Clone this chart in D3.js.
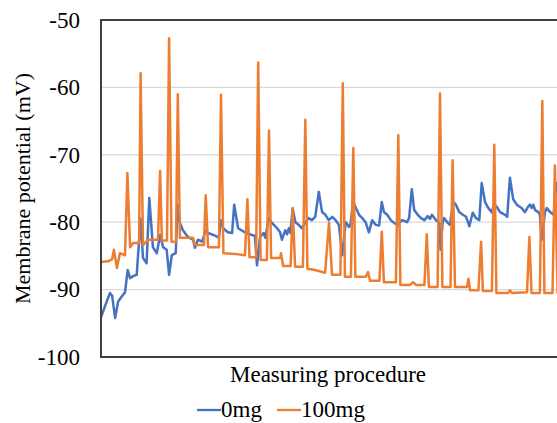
<!DOCTYPE html>
<html>
<head>
    <meta charset="utf-8">
    <title>Membrane potential</title>
    <script src="https://d3js.org/d3.v7.min.js"></script>
</head>
<body style="margin:0; background:#fff; overflow:hidden;">
<div id="chart"></div>
<script>
    // sample position along the measuring procedure (arbitrary units) and potential (mV)
    var t0mg = [0, 1.7, 3, 3.7, 4.7, 5.7, 6.3, 8, 8.9, 9.7, 10.7, 11.9, 13.2, 14, 15.2, 16.1, 17.3, 18.6,
        19.7, 20.7, 21.9, 22.7, 23.6, 24.9, 25.6, 26.3, 27.3, 29, 30.7, 31.3, 32.3, 33.7, 34.9, 35.7, 38,
        39.3, 40, 40.7, 42.3, 43.7, 44.4, 45.7, 48, 50.3, 51.3, 52, 53, 54.2, 54.8, 55.9, 57, 58.7, 59.7,
        60.3, 61.4, 62, 62.6, 63.1, 63.9, 64.8, 65.9, 67, 68.1, 69.2, 70.3, 71.4, 72.6, 73.7, 74.8, 75.9,
        77.1, 78.2, 79.3, 80.4, 81.6, 82.7, 83.2, 84, 85, 86, 87.1, 88.2, 89.3, 90.4, 91.6, 92.7, 93.6,
        94.3, 95.4, 96.6, 97.7, 98.8, 100.4, 102, 102.7, 103.6, 104.4, 105.6, 106.7, 107.8, 108.9, 109.7,
        110.3, 111.7, 112.8, 113.2, 113.9, 114.4, 115.6, 116.3, 117.4, 118.3, 119.4, 120.6, 121.7, 122.8,
        123.9, 125, 126.1, 126.9, 128, 129.1, 130.2, 131, 131.9, 133, 134.7, 135.4, 136.3, 137.4, 138.6,
        140.2, 141.3, 142.4, 143, 143.6, 144.1, 144.7, 145.8, 146.3, 146.9, 148, 148.6, 149.7, 150.9,
        151.7, 153];
    var v0mg = [-94.1, -92.0, -90.5, -90.9, -94.2, -91.8, -91.4, -90.4, -87.1, -88.3, -88.0, -87.8, -79.5,
        -85.3, -86.1, -76.4, -83.7, -84.6, -81.9, -83.7, -84.1, -87.8, -84.9, -84.6, -77.4, -80.1, -81.2,
        -82.2, -82.6, -83.8, -82.6, -82.9, -81.2, -81.6, -82.0, -82.3, -79.7, -80.9, -81.5, -81.6, -77.4,
        -80.9, -81.5, -81.9, -82.0, -86.4, -82.2, -81.6, -82.3, -79.4, -80.1, -80.9, -81.5, -82.6, -81.2,
        -81.8, -80.9, -81.6, -78.0, -80.0, -80.4, -80.9, -80.1, -79.4, -79.7, -79.2, -75.5, -78.5, -78.9,
        -79.7, -79.2, -79.7, -80.4, -84.9, -80.0, -80.7, -80.3, -77.0, -77.9, -78.9, -79.4, -80.0, -81.5,
        -79.7, -80.4, -80.5, -77.0, -78.5, -78.9, -79.7, -80.1, -80.4, -79.7, -80.0, -79.4, -75.1, -78.2,
        -78.9, -79.4, -79.7, -79.1, -79.5, -78.9, -79.7, -80.1, -84.1, -80.0, -79.4, -80.1, -80.4, -77.0,
        -77.4, -78.5, -78.9, -79.2, -80.6, -78.6, -79.4, -79.7, -74.2, -77.0, -77.9, -78.5, -77.4, -77.7,
        -78.5, -78.9, -79.2, -73.4, -76.6, -77.4, -77.9, -78.5, -77.7, -77.4, -77.9, -77.4, -78.2, -78.5,
        -78.9, -82.6, -78.5, -77.9, -78.5, -78.9, -74.2, -76.6];

    var t100mg = [0, 2.3, 3.7, 4.3, 5.3, 6.3, 8, 8.8, 9.7, 10.7, 12.7, 13.2, 14, 15.7, 19, 19.7, 20.3, 22,
        22.7, 23.5, 25, 25.6, 26.3, 30.7, 31.3, 34.3, 34.9, 35.7, 39.3, 40, 40.8, 44.7, 48, 48.8, 49.5,
        51.7, 52.4, 53.2, 55.3, 56, 56.7, 59.7, 60, 60.7, 63.2, 63.9, 64.7, 67.3, 68.1, 68.8, 71.3, 74.7,
        76, 77, 79.8, 80.6, 81.3, 83.3, 84.1, 84.8, 88.3, 89, 89.7, 92.8, 93.6, 94.3, 98.3, 99.1, 99.8,
        103, 104, 105, 107.8, 108.6, 109.3, 112.2, 113, 113.8, 116.5, 117.2, 118, 122, 122.5, 123, 125.8,
        126.7, 127.3, 130.3, 131.1, 131.8, 135.7, 136.3, 137, 142, 142.8, 143.5, 146.3, 147.1, 147.8,
        150.5, 151.3, 152.2, 153];
    var v100mg = [-85.9, -85.8, -85.5, -84.1, -86.8, -84.6, -84.9, -72.7, -83.7, -83.1, -83.1, -57.9,
        -83.4, -82.6, -82.6, -72.4, -82.7, -82.7, -52.7, -82.9, -82.9, -61.0, -82.3, -82.3, -83.4, -83.4,
        -76.0, -83.7, -83.7, -61.1, -84.6, -84.7, -84.9, -76.6, -85.2, -85.2, -56.3, -85.6, -85.6, -66.4,
        -85.3, -85.3, -84.6, -86.5, -86.5, -77.9, -86.6, -86.6, -64.8, -86.9, -87.1, -87.5, -80.1, -87.8,
        -87.8, -59.4, -88.1, -88.1, -69.0, -88.1, -88.1, -87.4, -88.7, -88.7, -81.4, -88.9, -88.9, -67.1,
        -89.3, -89.3, -88.9, -89.3, -89.3, -81.8, -89.6, -89.6, -60.9, -89.6, -89.6, -70.8, -89.6, -89.6,
        -88.4, -90.1, -90.1, -82.9, -90.2, -90.2, -68.5, -90.5, -90.5, -90.1, -90.5, -90.4, -82.2, -90.5,
        -90.5, -62.0, -90.5, -90.5, -71.6, -90.5, -90.5];

    var yTicks = [-100, -90, -80, -70, -60, -50];
    var seriesNames = ["0mg", "100mg"];
    var seriesColors = ["#4472C4", "#ED7D31"];

    var serif = "'Liberation Serif', 'Times New Roman', serif";

    var margin = {top: 20, left: 101},
        width = 480,
        height = 337;

    var svg = d3.select("#chart")
      .append("svg")
        .attr("width", 557)
        .attr("height", 423);

    var g = svg.append("g")
        .attr("transform", "translate(" + margin.left + "," + margin.top + ")");

    var x = d3.scaleLinear().domain([0, 160]).range([0, width]);
    var y = d3.scaleLinear().domain([-100, -50]).range([height, 0]);

    // gridlines
    g.selectAll(".grid")
        .data(yTicks.slice(1, -1))
        .enter().append("line")
        .attr("x1", 0).attr("x2", width)
        .attr("y1", d => y(d)).attr("y2", d => y(d))
        .attr("stroke", "#d9d9d9")
        .attr("stroke-width", 1.3);

    // y axis labels (plain hyphen minus, like the original)
    var yAxis = g.append("g")
        .call(d3.axisLeft(y).tickValues(yTicks).tickSize(0).tickPadding(21).tickFormat(d => String(d)));
    yAxis.select(".domain").remove();
    yAxis.selectAll("text")
        .style("font-family", serif)
        .style("font-size", "23px")
        .attr("fill", "#000");

    // lines
    var line = d3.line()
        .x(d => x(d[0]))
        .y(d => y(d[1]));

    var data0 = t0mg.map((t, i) => [t, v0mg[i]]);
    var data100 = t100mg.map((t, i) => [t, v100mg[i]]);

    g.append("path")
        .datum(data0)
        .attr("fill", "none")
        .attr("stroke", seriesColors[0])
        .attr("stroke-width", 2.5)
        .attr("stroke-linejoin", "round")
        .attr("d", line);

    g.append("path")
        .datum(data100)
        .attr("fill", "none")
        .attr("stroke", seriesColors[1])
        .attr("stroke-width", 2.5)
        .attr("stroke-linejoin", "round")
        .attr("d", line);

    // frame (top, left, bottom)
    g.append("path")
        .attr("d", "M" + width + ",0H0V" + height + "H" + width)
        .attr("fill", "none")
        .attr("stroke", "#404040")
        .attr("stroke-width", 2);

    // axis titles
    svg.append("text")
        .attr("transform", "translate(30," + (margin.top + height / 2) + ") rotate(-90)")
        .attr("text-anchor", "middle")
        .style("font-family", serif)
        .style("font-size", "22px")
        .text("Membrane potential (mV)");

    svg.append("text")
        .attr("x", 328)
        .attr("y", 382)
        .attr("text-anchor", "middle")
        .style("font-family", serif)
        .style("font-size", "23px")
        .text("Measuring procedure");

    // legend
    var legendX = [197, 277];
    var legend = svg.selectAll(".legend")
        .data(seriesNames)
        .enter().append("g")
        .attr("transform", (d, i) => "translate(" + legendX[i] + ",0)");

    legend.append("line")
        .attr("x1", 0).attr("x2", 24)
        .attr("y1", 410).attr("y2", 410)
        .attr("stroke", (d, i) => seriesColors[i])
        .attr("stroke-width", 2.3);

    legend.append("text")
        .attr("x", 24)
        .attr("y", 417)
        .style("font-family", serif)
        .style("font-size", "23px")
        .text(d => d);
</script>
</body>
</html>
